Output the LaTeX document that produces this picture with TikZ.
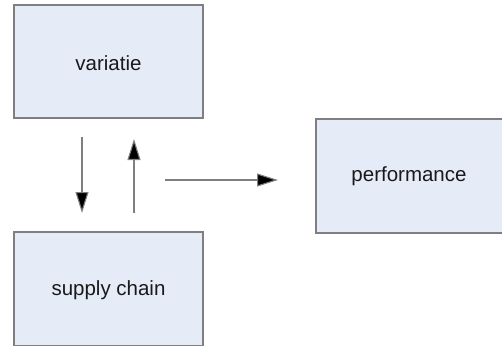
\documentclass[tikz,border=0pt]{standalone}
\usepackage{fontspec}
\setmainfont{Liberation Sans}
\usetikzlibrary{arrows.meta}
\definecolor{boxfill}{HTML}{E6ECF7}
\definecolor{boxline}{HTML}{7F7F7F}
\tikzset{
  block/.style={draw=boxline, line width=1.2pt, fill=boxfill, inner sep=0pt},
  label/.style={font=\fontsize{20.5}{24}\selectfont, text=black!90},
  flow/.style={draw=boxline, line width=1.1pt, -{Triangle[width=13pt,length=21pt,fill=black]}}
}
\begin{document}
\begin{tikzpicture}[x=1pt,y=-1pt]
  \useasboundingbox (0,0) rectangle (502,345);
  \clip (0,0) rectangle (502,345);
  % boxes
  \draw[block] (14,5) rectangle (203,118);
  \node[label] (var) at (108.5,63) {variatie};
  \draw[block] (14,232) rectangle (203,346);
  \node[label] (sc) at (108.5,290) {supply chain};
  \draw[block] (316,119) rectangle (506,233);
  \node[label] (perf) at (409,176) {performance};
  % connector end points
  \coordinate (d1) at (82,137);
  \coordinate (d2) at (82,213);
  \coordinate (u1) at (134,213);
  \coordinate (u2) at (134,139);
  \coordinate (h1) at (165,180);
  \coordinate (h2) at (278,180);
  \draw[flow] (d1) -- (d2);
  \draw[flow] (u1) -- (u2);
  \draw[flow] (h1) -- (h2);
\end{tikzpicture}
\end{document}
